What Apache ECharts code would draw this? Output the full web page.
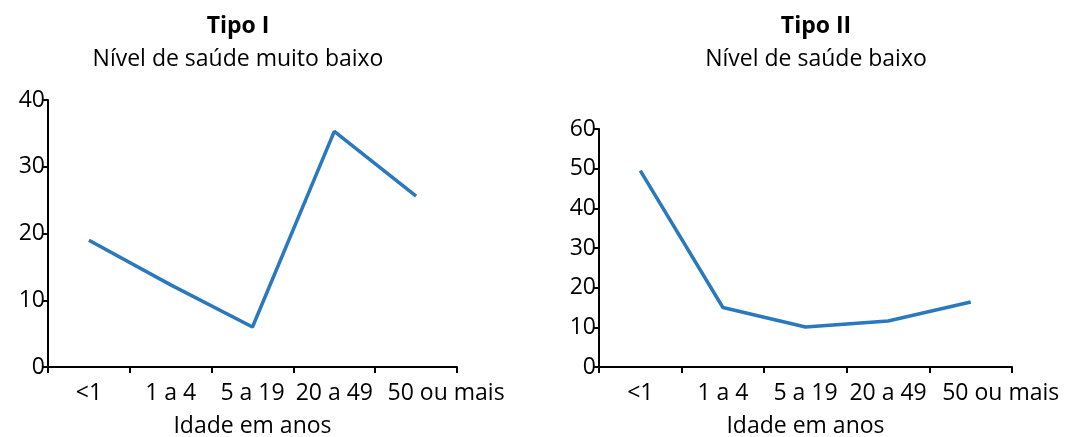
<!DOCTYPE html>
<html>
<head>
<meta charset="utf-8">
<script src="https://cdn.jsdelivr.net/npm/echarts@6/dist/echarts.min.js"></script>
<style>
html,body{margin:0;padding:0;background:#fff;}
#chart{width:1075px;height:437px;}
</style>
</head>
<body>
<div id="chart"></div>
<script>
const categories = ['<1', '1 a 4', '5 a 19', '20 a 49', '50 ou mais'];
const valuesTipoI = [19.0, 12.3, 6.0, 35.3, 25.6];
const valuesTipoII = [49.5, 15.0, 10.1, 11.6, 16.4];
const ticksTipoI = {min: 0, max: 40, interval: 10};
const ticksTipoII = {min: 0, max: 60, interval: 10};
const titles = [
  {main: 'Tipo I', sub: 'Nível de saúde muito baixo'},
  {main: 'Tipo II', sub: 'Nível de saúde baixo'}
];
const axisName = 'Idade em anos';

const FONT = '"Open Sans", sans-serif';
const FS = 23;
const LINE_COLOR = '#2a78bd';

function catData() {
  return categories.map((c, i) => i === categories.length - 1
    ? {value: c, textStyle: {padding: [0, 0, 0, 60]}}
    : c);
}

function xAxis(gridIndex) {
  return {
    type: 'category', gridIndex, data: catData(), boundaryGap: true,
    name: axisName, nameLocation: 'middle', nameGap: 48,
    nameTextStyle: {fontFamily: FONT, fontSize: FS, color: '#000'},
    axisLine: {lineStyle: {color: '#000', width: 2}},
    axisTick: {show: true, length: 6, alignWithLabel: false, lineStyle: {color: '#000', width: 2}},
    axisLabel: {fontFamily: FONT, fontSize: FS, color: '#000', margin: 15, interval: 0},
    splitLine: {show: false}
  };
}
function yAxis(gridIndex, t) {
  return {
    type: 'value', gridIndex, min: t.min, max: t.max, interval: t.interval,
    axisLine: {show: true, lineStyle: {color: '#000', width: 2}},
    axisTick: {show: true, length: 6, lineStyle: {color: '#000', width: 2}},
    axisLabel: {fontFamily: FONT, fontSize: FS, color: '#000', margin: 3},
    splitLine: {show: false}
  };
}

const chart = echarts.init(document.getElementById('chart'));
chart.setOption({
  animation: false,
  backgroundColor: '#fff',
  title: [
    {text: titles[0].main, subtext: titles[0].sub, left: 233, top: 10, textAlign: 'center', itemGap: 10,
     textStyle: {fontFamily: FONT, fontSize: FS, fontWeight: 'bold', color: '#000'},
     subtextStyle: {fontFamily: FONT, fontSize: FS, color: '#000'}},
    {text: titles[1].main, subtext: titles[1].sub, left: 811, top: 10, textAlign: 'center', itemGap: 10,
     textStyle: {fontFamily: FONT, fontSize: FS, fontWeight: 'bold', color: '#000'},
     subtextStyle: {fontFamily: FONT, fontSize: FS, color: '#000'}}
  ],
  grid: [
    {left: 48, right: 618, top: 100, bottom: 70, containLabel: false, outerBoundsMode: 'none'},
    {left: 599, right: 63, top: 129, bottom: 70, containLabel: false, outerBoundsMode: 'none'}
  ],
  xAxis: [xAxis(0), xAxis(1)],
  yAxis: [yAxis(0, ticksTipoI), yAxis(1, ticksTipoII)],
  series: [
    {type: 'line', xAxisIndex: 0, yAxisIndex: 0, data: valuesTipoI, showSymbol: false, symbol: 'none',
     lineStyle: {color: LINE_COLOR, width: 3.5}, itemStyle: {color: LINE_COLOR}},
    {type: 'line', xAxisIndex: 1, yAxisIndex: 1, data: valuesTipoII, showSymbol: false, symbol: 'none',
     lineStyle: {color: LINE_COLOR, width: 3.5}, itemStyle: {color: LINE_COLOR}}
  ]
});
</script>
</body>
</html>
